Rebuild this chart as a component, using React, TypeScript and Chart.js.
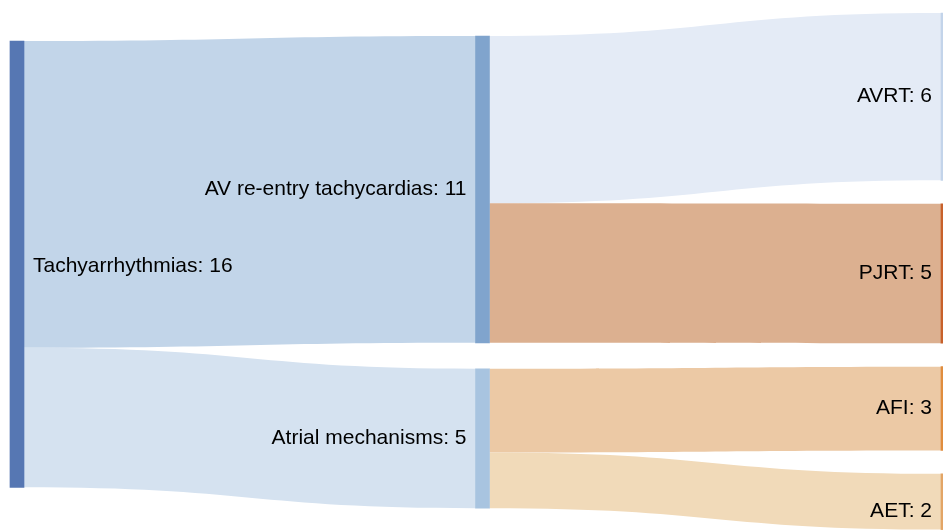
import React, { useEffect, useRef } from 'react';
import { Chart, registerables } from 'chart.js';

Chart.register(...registerables);

// ---- data ----
const nodeNames = [
  'Tachyarrhythmias',
  'AV re-entry tachycardias',
  'Atrial mechanisms',
  'AVRT',
  'PJRT',
  'AFI',
  'AET',
];
const nodeColumns = [0, 1, 1, 2, 2, 2, 2];
const flowFrom = [0, 0, 1, 1, 2, 2];
const flowTo = [1, 2, 3, 4, 5, 6];
const flowValues = [11, 5, 6, 5, 3, 2];

// ---- styles / layout ----
const nodeColors = ['#5677b3', '#80a4cd', '#a8c4e0', '#c3d4ea', '#c8612b', '#e08d3e', '#e3a566'];
const flowColors = ['#c2d5e9', '#d5e2f0', '#e4ebf6', '#dcb090', '#ecc9a5', '#f1dab9'];
const COL_TOP = [1.47, 1.29, 0.466];
const COL_GAP = [0, 0.93, 0.84];
const LABEL_SHIFT = [2, 0, 0, 0, 0, 0, 9];
const LABEL_PAD = 9;
const FONT = '21px "Liberation Sans", Arial, Helvetica, sans-serif';

function computeLayout() {
  const n = nodeNames.length;
  const inSum = new Array(n).fill(0);
  const outSum = new Array(n).fill(0);
  flowValues.forEach((v, i) => {
    outSum[flowFrom[i]] += v;
    inSum[flowTo[i]] += v;
  });
  const size = inSum.map((v, i) => Math.max(v, outSum[i]));
  const top = new Array(n).fill(0);
  const cursor = COL_TOP.slice();
  for (let i = 0; i < n; i++) {
    const c = nodeColumns[i];
    top[i] = cursor[c];
    cursor[c] += size[i] + COL_GAP[c];
  }
  const outOff = top.slice();
  const inOff = top.slice();
  const flows = flowValues.map((v, i) => {
    const s = flowFrom[i];
    const t = flowTo[i];
    const f = { s, t, v, y0: outOff[s], y1: inOff[t] };
    outOff[s] += v;
    inOff[t] += v;
    return f;
  });
  return { size, top, flows };
}

export default function App() {
  const canvasRef = useRef<HTMLCanvasElement | null>(null);

  useEffect(() => {
    const canvas = canvasRef.current;
    if (!canvas) return;
    const { size, top, flows } = computeLayout();

    const sankeyPlugin = {
      id: 'sankeyLinks',
      beforeDatasetsDraw(chart: any) {
        const { ctx, chartArea } = chart;
        const x = chart.scales.x;
        const y = chart.scales.y;
        const bars = chart.getDatasetMeta(0).data;
        ctx.save();
        ctx.beginPath();
        ctx.rect(chartArea.left, chartArea.top, chartArea.right - chartArea.left, chartArea.bottom - chartArea.top);
        ctx.clip();
        flows.forEach((f: any, i: number) => {
          const ws = bars[f.s].width / 2;
          const wt = bars[f.t].width / 2;
          const xs = x.getPixelForValue(nodeColumns[f.s]) + ws;
          const xt = x.getPixelForValue(nodeColumns[f.t]) - wt;
          const ys0 = y.getPixelForValue(f.y0);
          const ys1 = y.getPixelForValue(f.y0 + f.v);
          const yt0 = y.getPixelForValue(f.y1);
          const yt1 = y.getPixelForValue(f.y1 + f.v);
          const xm = (xs + xt) / 2;
          ctx.beginPath();
          ctx.moveTo(xs, ys0);
          ctx.bezierCurveTo(xm, ys0, xm, yt0, xt, yt0);
          ctx.lineTo(xt, yt1);
          ctx.bezierCurveTo(xm, yt1, xm, ys1, xs, ys1);
          ctx.closePath();
          ctx.fillStyle = flowColors[i];
          ctx.fill();
        });
        ctx.restore();
      },
      afterDatasetsDraw(chart: any) {
        const { ctx } = chart;
        const x = chart.scales.x;
        const y = chart.scales.y;
        const bars = chart.getDatasetMeta(0).data;
        ctx.save();
        ctx.font = FONT;
        ctx.fillStyle = '#000000';
        ctx.textBaseline = 'middle';
        nodeNames.forEach((name, i) => {
          const c = nodeColumns[i];
          const cx = x.getPixelForValue(c);
          const w = bars[i].width / 2;
          const cy = y.getPixelForValue(top[i] + size[i] / 2) + LABEL_SHIFT[i];
          const text = `${name}: ${size[i]}`;
          if (c === 0) {
            ctx.textAlign = 'left';
            ctx.fillText(text, cx + w + LABEL_PAD, cy);
          } else {
            ctx.textAlign = 'right';
            ctx.fillText(text, cx - w - LABEL_PAD, cy);
          }
        });
        ctx.restore();
      },
    };

    const chart = new Chart(canvas, {
      type: 'bar',
      data: {
        datasets: [
          {
            data: nodeNames.map((_, i) => ({ x: nodeColumns[i], y: [top[i], top[i] + size[i]] })) as any,
            backgroundColor: nodeColors,
            borderWidth: 0,
            barThickness: 14,
            grouped: false,
          } as any,
        ],
      },
      options: {
        animation: false,
        responsive: false,
        events: [],
        layout: { padding: 0 },
        plugins: { legend: { display: false }, tooltip: { enabled: false }, title: { display: false } },
        scales: {
          x: { type: 'linear', min: -0.0365, max: 1.9893, display: false, offset: false },
          y: { type: 'linear', min: 0, max: 19, reverse: true, display: false },
        },
      },
      plugins: [sankeyPlugin],
    });

    return () => chart.destroy();
  }, []);

  return (
    <div style={{ position: 'absolute', left: 0, top: 0, width: 943, height: 530, background: '#ffffff' }}>
      <canvas ref={canvasRef} width={943} height={530} style={{ display: 'block', width: 943, height: 530 }} />
    </div>
  );
}
